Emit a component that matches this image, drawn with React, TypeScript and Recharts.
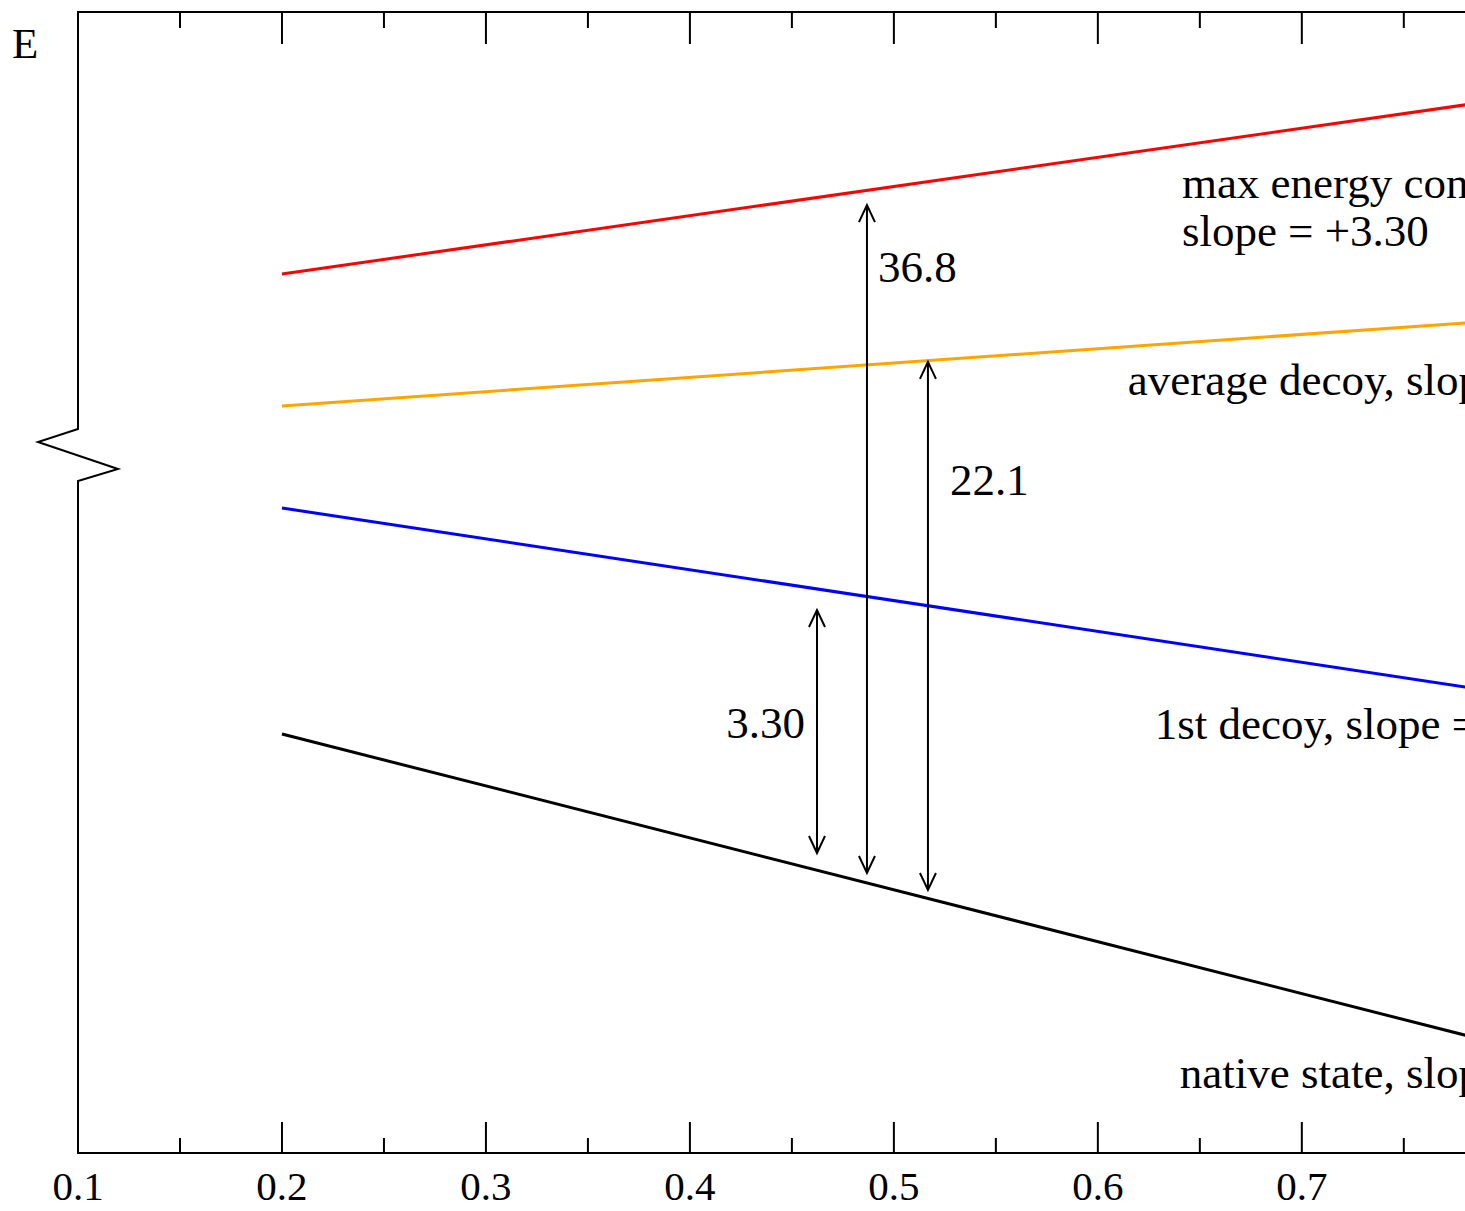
import { LineChart, Line, XAxis, YAxis, ReferenceLine, ReferenceDot } from 'recharts'

// x positions where each level is sampled
const xs = [0.2, 0.8]

// energy levels (arbitrary units on the broken E axis)
const maxEnergy = [77.04, 92.37]
const averageDecoy = [65.47, 73.0]
const firstDecoy = [56.53, 40.3]
const nativeState = [36.72, 9.42]

const xTicks = [0.1, 0.15, 0.2, 0.25, 0.3, 0.35, 0.4, 0.45, 0.5, 0.55, 0.6, 0.65, 0.7, 0.75]

// energy gaps: x, top and bottom of the arrow, and the gap it stands for
const gapX = [0.4623, 0.4868, 0.5167]
const gapTop = [47.59, 83.08, 69.33]
const gapBottom = [26.29, 24.54, 23.05]
const gapValues = ['3.30', '36.8', '22.1']
const gapLabelY = [36.37, 76.34, 57.67]

// curve captions
const captionText = [
  'max energy conformation,',
  'slope = +3.30',
  'average decoy, slope = +1.47',
  '1st decoy, slope = −3.30',
  'native state, slope = −5.51',
]
const captionX = [0.6412, 0.6412, 0.6147, 0.6279, 0.6402]
const captionY = [83.7, 79.49, 66.4, 36.28, 5.7]

const Y_DOMAIN: [number, number] = [0, 100]
const AXIS_BREAK = 63.45

const FONT = "'Liberation Serif', 'Times New Roman', serif"

const toSeries = (vals: number[]) => xs.map((x, i) => ({ x, e: vals[i] }))

const isMajor = (v: number) => Math.abs(v * 10 - Math.round(v * 10)) < 1e-6

// eslint-disable-next-line @typescript-eslint/no-explicit-any
function BottomTick({ x, y, payload }: any) {
  const major = isMajor(payload.value)
  return (
    <g>
      <line x1={x} y1={y} x2={x} y2={y - (major ? 31 : 15)} stroke="#000" strokeWidth={2} />
      {major && (
        <text x={x} y={y + 47} textAnchor="middle" fontSize={41} fontFamily={FONT} fill="#000">
          {payload.value.toFixed(1)}
        </text>
      )}
    </g>
  )
}

// eslint-disable-next-line @typescript-eslint/no-explicit-any
function TopTick({ x, y, payload }: any) {
  const major = isMajor(payload.value)
  return <line x1={x} y1={y} x2={x} y2={y + (major ? 32 : 16)} stroke="#000" strokeWidth={2} />
}

// left axis with a zig-zag break and the E label
// eslint-disable-next-line @typescript-eslint/no-explicit-any
function BrokenAxis(props: any) {
  const { x1, y1, y2 } = props
  const top = Math.min(y1, y2)
  const bottom = Math.max(y1, y2)
  const by = top + ((Y_DOMAIN[1] - AXIS_BREAK) / (Y_DOMAIN[1] - Y_DOMAIN[0])) * (bottom - top)
  const d = `M${x1},${top - 1} L${x1},${by} L${x1 - 40},${by + 13} L${x1 + 40},${by + 40} L${x1},${by + 52} L${x1},${bottom + 1}`
  return (
    <g>
      <path d={d} fill="none" stroke="#000" strokeWidth={2} strokeLinejoin="miter" />
      <text x={x1 - 66} y={top + 46} fontSize={43} fontFamily={FONT} fill="#000">
        E
      </text>
    </g>
  )
}

// vertical double-headed arrow
// eslint-disable-next-line @typescript-eslint/no-explicit-any
function GapArrow(props: any) {
  const { x1, y1, y2 } = props
  const top = Math.min(y1, y2)
  const bottom = Math.max(y1, y2)
  return (
    <g stroke="#000" strokeWidth={2} fill="none">
      <line x1={x1} y1={top} x2={x1} y2={bottom} />
      <polyline points={`${x1 - 8},${top + 17} ${x1},${top} ${x1 + 8},${top + 17}`} />
      <polyline points={`${x1 - 8},${bottom - 17} ${x1},${bottom} ${x1 + 8},${bottom - 17}`} />
    </g>
  )
}

const textAt = (text: string, anchor: 'start' | 'end', dx: number) =>
  // eslint-disable-next-line @typescript-eslint/no-explicit-any
  function TextShape({ cx, cy }: any) {
    return (
      <text x={cx + dx} y={cy} textAnchor={anchor} fontSize={45} fontFamily={FONT} fill="#000">
        {text}
      </text>
    )
  }

export default function App() {
  return (
    <div style={{ position: 'absolute', left: 0, top: 0, background: '#fff' }}>
      <LineChart width={1465} height={1211} margin={{ top: 11, right: 0, bottom: 57, left: 78 }}>
        <XAxis
          dataKey="x"
          type="number"
          domain={[0.1, 0.78]}
          allowDataOverflow
          ticks={xTicks}
          interval={0}
          height={1}
          tickSize={0}
          tickMargin={0}
          tickLine={false}
          axisLine={{ stroke: '#000', strokeWidth: 2 }}
          tick={<BottomTick />}
        />
        <XAxis
          xAxisId="top"
          orientation="top"
          dataKey="x"
          type="number"
          domain={[0.1, 0.78]}
          allowDataOverflow
          ticks={xTicks}
          interval={0}
          height={1}
          tickSize={0}
          tickMargin={0}
          tickLine={false}
          axisLine={{ stroke: '#000', strokeWidth: 2 }}
          tick={<TopTick />}
        />
        <YAxis type="number" domain={Y_DOMAIN} hide />

        <ReferenceLine x={0.1} shape={BrokenAxis} />

        <Line data={toSeries(maxEnergy)} dataKey="e" stroke="#ff0000" strokeWidth={3} dot={false} activeDot={false} isAnimationActive={false} />
        <Line data={toSeries(averageDecoy)} dataKey="e" stroke="#ffa500" strokeWidth={3} dot={false} activeDot={false} isAnimationActive={false} />
        <Line data={toSeries(firstDecoy)} dataKey="e" stroke="#0000ff" strokeWidth={3} dot={false} activeDot={false} isAnimationActive={false} />
        <Line data={toSeries(nativeState)} dataKey="e" stroke="#000000" strokeWidth={3} dot={false} activeDot={false} isAnimationActive={false} />

        {gapX.map((x, i) => (
          <ReferenceLine
            key={`gap-${i}`}
            segment={[
              { x, y: gapTop[i] },
              { x, y: gapBottom[i] },
            ]}
            shape={GapArrow}
          />
        ))}

        {gapX.map((x, i) => (
          <ReferenceDot
            key={`gap-label-${i}`}
            x={x}
            y={gapLabelY[i]}
            r={0}
            shape={textAt(gapValues[i], i === 0 ? 'end' : 'start', i === 0 ? -12 : i === 1 ? 11 : 22)}
          />
        ))}

        {captionText.map((t, i) => (
          <ReferenceDot key={`caption-${i}`} x={captionX[i]} y={captionY[i]} r={0} shape={textAt(t, 'start', 0)} />
        ))}
      </LineChart>
    </div>
  )
}
